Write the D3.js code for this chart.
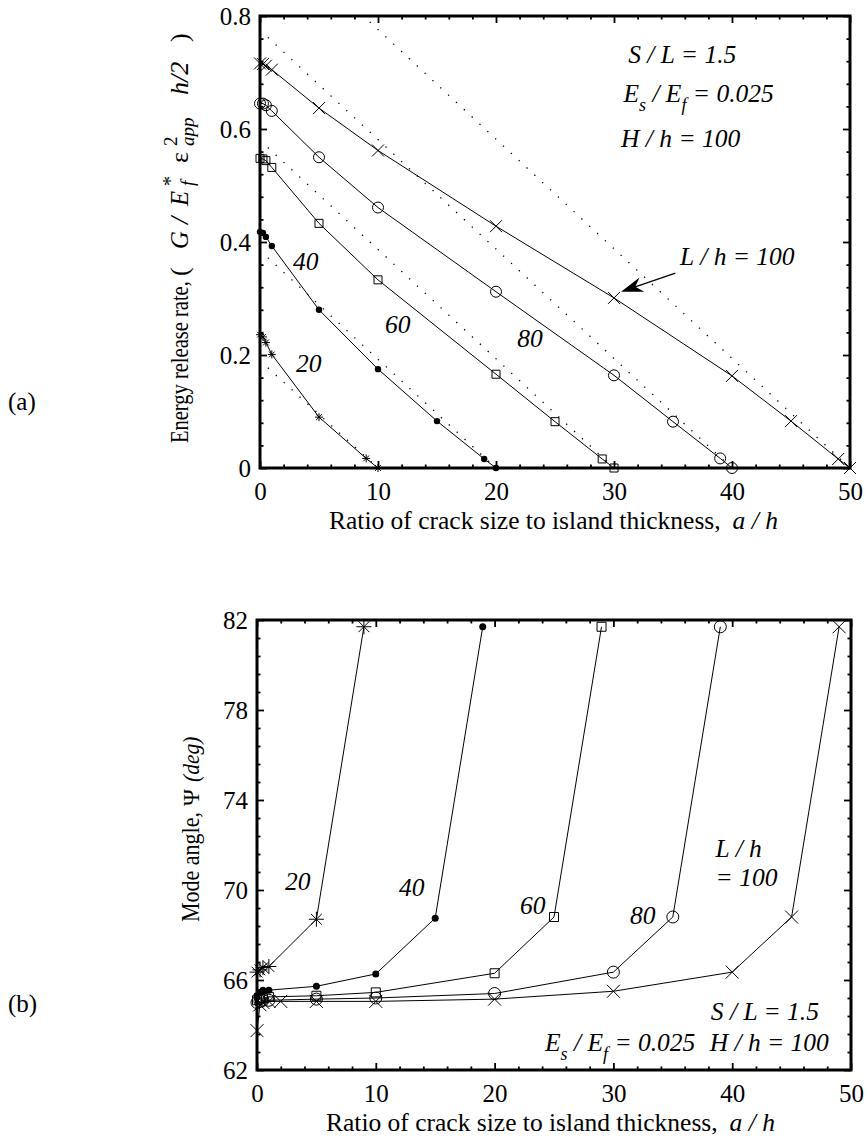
<!DOCTYPE html>
<html>
<head>
<meta charset="utf-8">
<script src="https://cdn.jsdelivr.net/npm/d3@7"></script>
<style>
  body { margin: 0; background: #fff; }
  svg text { font-family: "Liberation Serif", "Times New Roman", Times, serif !important; fill: #000; }
</style>
</head>
<body>
<script>
// ---------- data ----------
const levels = [20, 40, 60, 80, 100];            // L / h
const markerType = { 20: "star", 40: "dot", 60: "square", 80: "circle", 100: "cross" };

// (a) energy release rate G / (E*_f eps^2 h/2) vs a/h
const aTop20 = [0, 0.25, 0.5, 1, 5, 9, 10];
const gTop20 = [0.236, 0.232, 0.222, 0.201, 0.090, 0.017, 0];
const aTop40 = [0, 0.25, 0.5, 1, 5, 10, 15, 19, 20];
const gTop40 = [0.418, 0.416, 0.409, 0.393, 0.280, 0.175, 0.083, 0.016, 0];
const aTop60 = [0, 0.25, 0.5, 1, 5, 10, 20, 25, 29, 30];
const gTop60 = [0.548, 0.547, 0.544, 0.532, 0.433, 0.333, 0.166, 0.082, 0.016, 0];
const aTop80 = [0, 0.25, 0.5, 1, 5, 10, 20, 30, 35, 39, 40];
const gTop80 = [0.645, 0.645, 0.642, 0.632, 0.550, 0.461, 0.312, 0.164, 0.082, 0.017, 0];
const aTop100 = [0, 0.25, 0.5, 1, 5, 10, 20, 30, 40, 45, 49, 50];
const gTop100 = [0.716, 0.715, 0.712, 0.705, 0.637, 0.562, 0.428, 0.301, 0.163, 0.083, 0.016, 0];

// dotted straight reference lines: G at a/h = 0, and a/h where G = 0
const dottedG0 = [0.19, 0.385, 0.58, 0.775, 0.97];
const dottedEnd = [10, 20, 30, 40, 50];

// (b) mode angle psi (deg) vs a/h
const aBot20 = [0, 0.25, 0.5, 1, 5, 9];
const psiBot20 = [66.35, 66.45, 66.55, 66.6, 68.7, 81.7];
const aBot40 = [0, 0.25, 0.5, 1, 5, 10, 15, 19];
const psiBot40 = [65.3, 65.45, 65.55, 65.55, 65.72, 66.27, 68.75, 81.7];
const aBot60 = [0, 0.25, 0.5, 1, 5, 10, 20, 25, 29];
const psiBot60 = [65.1, 65.15, 65.2, 65.25, 65.3, 65.45, 66.3, 68.8, 81.7];
const aBot80 = [0, 0.25, 0.5, 1, 5, 10, 20, 30, 35, 39];
const psiBot80 = [65.0, 65.05, 65.1, 65.1, 65.15, 65.2, 65.4, 66.35, 68.8, 81.7];
const aBot100 = [0, 0.25, 0.5, 1, 2, 5, 10, 20, 30, 40, 45, 49];
const psiBot100 = [63.75, 64.9, 65.0, 65.05, 65.05, 65.05, 65.05, 65.15, 65.5, 66.35, 68.8, 81.7];

// ticks
const xTicks = [0, 10, 20, 30, 40, 50];
const xMinor = d3.range(0, 51, 2).filter(v => v % 10 !== 0);
const gTicks = [0, 0.2, 0.4, 0.6, 0.8];
const gMinor = d3.range(0, 0.801, 0.04).filter(v => Math.abs(v / 0.2 - Math.round(v / 0.2)) > 1e-6);
const psiTicks = [62, 66, 70, 74, 78, 82];
const psiMinor = d3.range(62, 82.01, 0.8).filter(v => Math.abs((v - 62) / 4 - Math.round((v - 62) / 4)) > 1e-6);

const topSeries = [
  { L: 20, a: aTop20, v: gTop20 }, { L: 40, a: aTop40, v: gTop40 },
  { L: 60, a: aTop60, v: gTop60 }, { L: 80, a: aTop80, v: gTop80 },
  { L: 100, a: aTop100, v: gTop100 }
];
const botSeries = [
  { L: 20, a: aBot20, v: psiBot20 }, { L: 40, a: aBot40, v: psiBot40 },
  { L: 60, a: aBot60, v: psiBot60 }, { L: 80, a: aBot80, v: psiBot80 },
  { L: 100, a: aBot100, v: psiBot100 }
];

// ---------- drawing ----------
const W = 867, H = 1142;
const FONT = '"Liberation Serif", "Times New Roman", Times, serif';
const svg = d3.select("body").append("svg").attr("width", W).attr("height", H)
  .style("font-family", FONT);

function markerPath(type, s) {
  if (type === "cross") return `M${-s},${-s}L${s},${s}M${-s},${s}L${s},${-s}`;
  if (type === "square") return `M${-s},${-s}H${s}V${s}H${-s}Z`;
  if (type === "star") {
    const d = s * 0.72;
    return `M0,${-s}V${s}M${-s},0H${s}M${-d},${-d}L${d},${d}M${-d},${d}L${d},${-d}`;
  }
  return null;
}

function drawMarkers(g, pts, type, sizes) {
  pts.forEach(p => {
    const m = g.append("g").attr("transform", `translate(${p[0]},${p[1]})`);
    if (type === "circle") {
      m.append("circle").attr("r", sizes.circle).attr("fill", "none").attr("stroke", "#000").attr("stroke-width", 1);
    } else if (type === "dot") {
      m.append("circle").attr("r", sizes.dot).attr("fill", "#000");
    } else {
      m.append("path").attr("d", markerPath(type, sizes[type])).attr("fill", "none")
        .attr("stroke", "#000").attr("stroke-width", 1);
    }
  });
}

function tickAxis(g, axisFn, scale, values, len, fmt, transform, pad) {
  const ax = g.append("g").attr("transform", transform)
    .call(axisFn(scale).tickValues(values).tickSize(-len).tickSizeOuter(0)
      .tickPadding(pad || 0).tickFormat(fmt));
  ax.select(".domain").remove();
  ax.attr("font-family", FONT).attr("font-size", 25);
  ax.selectAll("text").style("font-family", FONT).attr("fill", "#000");
  ax.selectAll("line").attr("stroke", "#000").attr("stroke-width", 1.8);
  return ax;
}

function panel(opt) {
  const x = d3.scaleLinear().domain([0, 50]).range([opt.left, opt.right]);
  const y = d3.scaleLinear().domain(opt.yDomain).range([opt.bottom, opt.top]);
  const g = svg.append("g");
  const clipId = "clip" + opt.id;
  svg.append("clipPath").attr("id", clipId).append("rect")
    .attr("x", opt.left).attr("y", opt.top)
    .attr("width", opt.right - opt.left).attr("height", opt.bottom - opt.top);

  const line = d3.line().x(d => x(d[0])).y(d => y(d[1]));

  if (opt.dotted) {
    opt.dotted.forEach(seg => {
      g.append("path").attr("d", line(seg)).attr("clip-path", `url(#${clipId})`)
        .attr("fill", "none").attr("stroke", "#000").attr("stroke-width", 1.3)
        .attr("stroke-dasharray", "1.3 9.4");
    });
  }

  opt.series.forEach(s => {
    const pts = s.a.map((a, i) => [a, s.v[i]]);
    g.append("path").attr("d", line(pts)).attr("fill", "none")
      .attr("stroke", "#000").attr("stroke-width", 1);
    drawMarkers(g, pts.map(p => [x(p[0]), y(p[1])]), markerType[s.L], opt.sizes);
  });

  // inward ticks on all four sides
  const bottom = `translate(0,${opt.bottom})`, topT = `translate(0,${opt.top})`;
  const leftT = `translate(${opt.left},0)`, rightT = `translate(${opt.right},0)`;
  tickAxis(g, d3.axisBottom, x, xTicks, 7, d3.format("d"), bottom, 14);
  tickAxis(g, d3.axisBottom, x, xMinor, 3.5, "", bottom);
  tickAxis(g, d3.axisTop, x, xTicks, 7, "", topT);
  tickAxis(g, d3.axisTop, x, xMinor, 3.5, "", topT);
  tickAxis(g, d3.axisLeft, y, opt.yTicks, 7, opt.yFormat, leftT, 9);
  tickAxis(g, d3.axisLeft, y, opt.yMinor, 3.5, "", leftT);
  tickAxis(g, d3.axisRight, y, opt.yTicks, 7, "", rightT);
  tickAxis(g, d3.axisRight, y, opt.yMinor, 3.5, "", rightT);

  g.append("rect").attr("x", opt.left).attr("y", opt.top)
    .attr("width", opt.right - opt.left).attr("height", opt.bottom - opt.top)
    .attr("fill", "none").attr("stroke", "#000").attr("stroke-width", 3);

  // x-axis title
  const xt = g.append("text").attr("x", opt.left + 69).attr("y", opt.bottom + 61)
    .attr("font-size", 25.5).style("font-family", FONT);
  xt.append("tspan").text("Ratio of crack size to island thickness,");
  xt.append("tspan").attr("dx", 12).attr("font-style", "italic").text("a / h");

  return { x, y, g };
}

function italicText(g, x, y, str, anchor) {
  return g.append("text").attr("x", x).attr("y", y).attr("font-size", 25.5)
    .style("font-family", FONT).attr("font-style", "italic")
    .attr("text-anchor", anchor || "start").text(str);
}

function modulusRatio(g, x, y, anchor) {
  const t = g.append("text").attr("x", x).attr("y", y).attr("font-size", 25.5)
    .style("font-family", FONT).attr("font-style", "italic").attr("text-anchor", anchor || "start");
  t.append("tspan").text("E");
  t.append("tspan").attr("dy", 9).attr("font-size", 18).text("s");
  t.append("tspan").attr("dy", -9).text(" / E");
  t.append("tspan").attr("dy", 9).attr("font-size", 18).text("f");
  t.append("tspan").attr("dy", -9).text(" = 0.025");
  return t;
}

// rotated piece of a y-axis title, compressed along its length
function rotPiece(bx, by, str, size, italic, sx) {
  return svg.append("text")
    .attr("transform", `translate(${bx},${by}) rotate(-90) scale(${sx || 0.82},1)`)
    .style("font-family", FONT)
    .attr("font-size", size).attr("font-style", italic ? "italic" : "normal").text(str);
}

// ---- panel (a) ----
const pa = panel({
  id: "a", left: 260, right: 850, top: 16, bottom: 468,
  yDomain: [0, 0.8], yTicks: gTicks, yMinor: gMinor,
  yFormat: d => d === 0 ? "0" : d3.format(".1f")(d),
  series: topSeries,
  dotted: dottedG0.map((g0, i) => [[0, g0], [dottedEnd[i], 0]]),
  sizes: { cross: 6, circle: 5.5, square: 4, dot: 3.2, star: 4 }
});

italicText(pa.g, pa.x(2.8), pa.y(0.350), "40");
italicText(pa.g, pa.x(10.6), pa.y(0.239), "60");
italicText(pa.g, pa.x(3.05), pa.y(0.170), "20");
italicText(pa.g, pa.x(21.8), pa.y(0.214), "80");
italicText(pa.g, pa.x(31.2), pa.y(0.717), "S / L = 1.5");
modulusRatio(pa.g, pa.x(30.8), pa.y(0.647));
italicText(pa.g, pa.x(30.6), pa.y(0.568), "H / h = 100");
italicText(pa.g, pa.x(35.6), pa.y(0.359), "L / h = 100");

// arrow pointing at the L/h = 100 curve
{
  const tail = [pa.x(35.2), pa.y(0.345)], tip = [pa.x(30.6), pa.y(0.312)];
  const dx = tip[0] - tail[0], dy = tip[1] - tail[1], len = Math.hypot(dx, dy);
  const u = [dx / len, dy / len], n = [-u[1], u[0]];
  const hl = 22, hw = 7.5, back = 15;
  const base = [tip[0] - hl * u[0], tip[1] - hl * u[1]];
  const notch = [tip[0] - back * u[0], tip[1] - back * u[1]];
  pa.g.append("path").attr("d", `M${tail[0]},${tail[1]}L${notch[0]},${notch[1]}`)
    .attr("stroke", "#000").attr("stroke-width", 1.2);
  pa.g.append("path")
    .attr("d", `M${tip[0]},${tip[1]}L${base[0] + hw * n[0]},${base[1] + hw * n[1]}` +
      `L${notch[0]},${notch[1]}L${base[0] - hw * n[0]},${base[1] - hw * n[1]}Z`)
    .attr("fill", "#000");
}

// y title (a)
{
  const bx = 188;
  rotPiece(bx, 443, "Energy release rate,", 25, false);
  rotPiece(bx, 276, "(", 26, false, 1);
  rotPiece(bx, 249, "G", 26, true, 0.95);
  rotPiece(bx, 224, "/", 26, true, 1);
  rotPiece(bx, 206, "E", 26, true, 0.95);
  rotPiece(bx - 11, 186, "*", 20, false, 1);
  rotPiece(bx + 6, 186, "f", 19, true, 1);
  rotPiece(bx, 163, "\u03b5", 26, false, 1);
  rotPiece(bx - 11, 146, "2", 19, false, 1);
  rotPiece(bx + 6, 146, "app", 19, true, 1);
  rotPiece(bx, 95, "h/2", 26, true, 1);
  rotPiece(bx, 42, ")", 26, false, 1);
}

svg.append("text").attr("x", 8).attr("y", 410).attr("font-size", 25)
  .style("font-family", FONT).text("(a)");

// ---- panel (b) ----
const pb = panel({
  id: "b", left: 257, right: 851, top: 620, bottom: 1070,
  yDomain: [62, 82], yTicks: psiTicks, yMinor: psiMinor,
  yFormat: d3.format("d"),
  series: botSeries,
  sizes: { cross: 6.5, circle: 6, square: 4.5, dot: 3.5, star: 7.5 }
});

italicText(pb.g, pb.x(2.36), pb.y(70.0), "20");
italicText(pb.g, pb.x(11.95), pb.y(69.73), "40");
italicText(pb.g, pb.x(22.14), pb.y(68.93), "60");
italicText(pb.g, pb.x(31.4), pb.y(68.49), "80");
italicText(pb.g, pb.x(38.6), pb.y(71.47), "L / h");
italicText(pb.g, pb.x(38.6), pb.y(70.18), "= 100");
italicText(pb.g, pb.x(38.2), pb.y(64.22), "S / L = 1.5");
italicText(pb.g, pb.x(38.1), pb.y(62.84), "H / h = 100");
modulusRatio(pb.g, pb.x(36.9), pb.y(62.84), "end");

// y title (b)
{
  const bx = 199;
  rotPiece(bx, 922, "Mode angle,", 25, false, 0.88);
  rotPiece(bx, 806, "\u03a8", 24, false, 0.95);
  rotPiece(bx, 782, "(deg)", 24, true, 0.9);
}

svg.append("text").attr("x", 8).attr("y", 1012).attr("font-size", 25)
  .style("font-family", FONT).text("(b)");
</script>
</body>
</html>
